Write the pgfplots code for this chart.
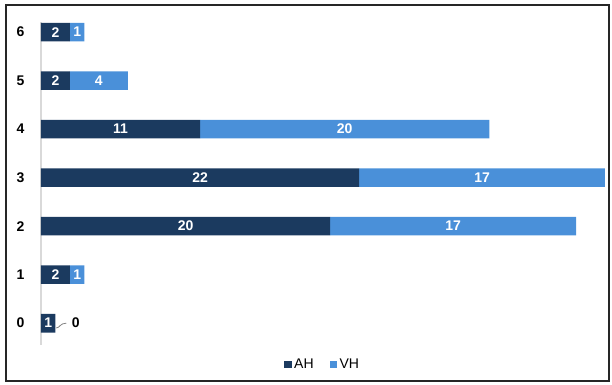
\documentclass[border=0pt]{standalone}
\usepackage{pgfplots}
\pgfplotsset{compat=1.18}
\usepackage{fontspec}
\setmainfont{Liberation Sans}
\definecolor{ahc}{HTML}{1B3A5F}
\definecolor{vhc}{HTML}{4A90D9}
\definecolor{axg}{HTML}{D9D9D9}
\begin{document}
\begin{tikzpicture}
\useasboundingbox (0,0) rectangle (459pt,288.75pt);
\draw[line width=1.5pt, black!85] (4.5pt,3pt) rectangle (456.75pt,285pt);
\begin{axis}[
  at={(30.75pt,30pt)}, anchor=south west,
  scale only axis, width=423pt, height=241.9pt,
  xbar stacked, bar width=14pt,
  xmin=0, xmax=39, ymin=-0.45, ymax=6.2,
  axis x line=none,
  axis y line*=left,
  y axis line style={draw=axg, line width=1pt},
  ytick={0,...,6},
  major tick length=0pt,
  yticklabel style={font=\bfseries\fontsize{10.5}{12}\selectfont, xshift=-9pt},
  /pgf/number format/assume math mode=true,
  visualization depends on=rawx \as \rx,
  nodes near coords={\ifdim\rx pt=0pt\else\pgfmathprintnumber{\rx}\fi},
  nodes near coords style={font=\bfseries\fontsize{10.5}{12}\selectfont, text=white, anchor=center},
  legend style={at={(0.5,0)}, anchor=north, yshift=-6pt, draw=none, legend columns=2,
     font=\fontsize{10.5}{12}\selectfont, /tikz/every even column/.append style={column sep=10pt}},
  legend image code/.code={\fill[#1] (0pt,-2.7pt) rectangle (5.4pt,2.7pt);},
]
\addplot[fill=ahc, draw=none] coordinates {(1,0) (2,1) (20,2) (22,3) (11,4) (2,5) (2,6)};
\addplot[fill=vhc, draw=none] coordinates {(0,0) (1,1) (17,2) (17,3) (20,4) (4,5) (1,6)};
\legend{AH, VH}
\draw[gray, line width=0.6pt] (axis cs:1.05,-0.1) .. controls (axis cs:1.3,-0.1) and (axis cs:1.3,0) .. (axis cs:1.75,0);
\node[font=\bfseries\fontsize{10.5}{12}\selectfont, anchor=center] at (axis cs:2.4,0) {0};
\end{axis}
\end{tikzpicture}
\end{document}
